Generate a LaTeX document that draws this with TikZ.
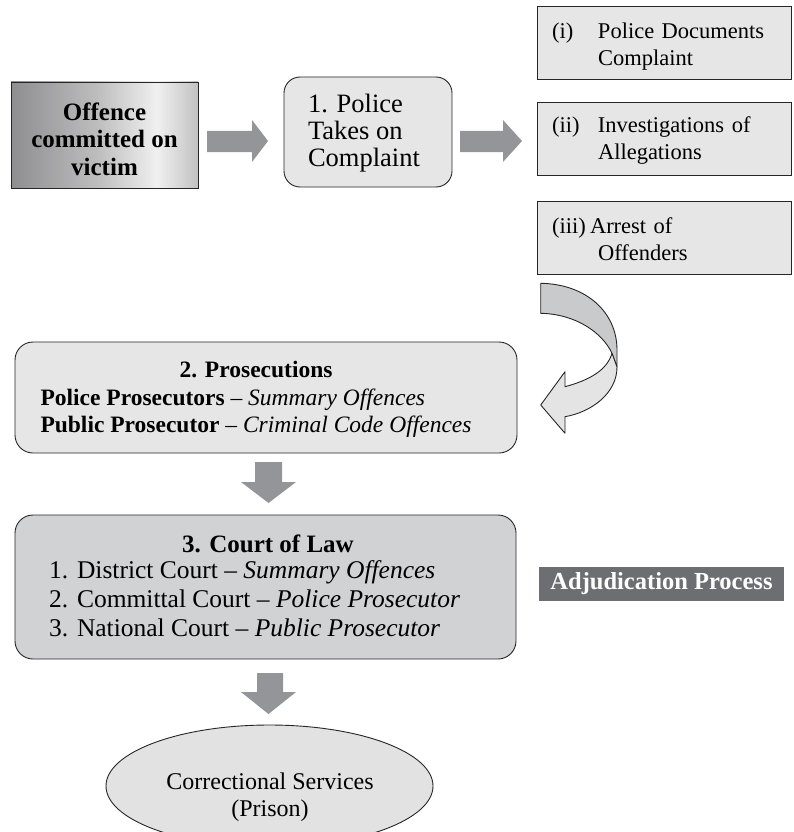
\documentclass[tikz,border=0pt]{standalone}
\usepackage{fontspec}
\setmainfont{Liberation Serif}
\usetikzlibrary{shapes.geometric}
\definecolor{arrowgray}{HTML}{939598}
\definecolor{boxlight}{HTML}{E6E6E7}
\definecolor{boxmid}{HTML}{D1D2D4}
\definecolor{adjgray}{HTML}{6D6E71}
\definecolor{curvedark}{HTML}{C9CACC}
\definecolor{curvelight}{HTML}{E4E4E5}
\definecolor{ellfill}{HTML}{E2E2E3}
\definecolor{shA}{HTML}{8E8E90}
\definecolor{shB}{HTML}{BDBDBE}
\definecolor{shC}{HTML}{F0F0F0}
\definecolor{shD}{HTML}{C2C2C3}
\pgfdeclarehorizontalshading{offsh}{100bp}{color(0bp)=(shA); color(25bp)=(shA); color(48bp)=(shB); color(64bp)=(shC); color(75bp)=(shD); color(100bp)=(shD)}
\tikzset{
  outline/.style={draw=black!85, line width=0.9pt, inner sep=0pt, outer sep=0pt},
  offbox/.style={outline, shading=offsh, minimum width=187pt, minimum height=106pt},
  policebox/.style={outline, fill=boxlight, rounded corners=16pt, minimum width=168pt, minimum height=110pt},
  stepbox/.style={outline, fill=boxlight, minimum width=254pt, minimum height=73pt},
  steptext/.style={inner sep=0pt, outer sep=0pt, anchor=west, text width=224pt, align=left,
    font=\fontsize{22.5}{27}\selectfont},
  bigbox/.style={outline, rounded corners=18pt},
  txt/.style={inner sep=0pt, outer sep=0pt},
  adjbox/.style={fill=adjgray, text=white, inner sep=0pt, minimum width=245pt, minimum height=34pt,
    font=\fontsize{24.5}{28}\selectfont\bfseries},
  blockarrow/.style={fill=arrowgray, draw=none},
  curvearrow/.style={draw=black!85, line width=0.9pt, line join=round}
}
\begin{document}
\begin{tikzpicture}[x=1pt,y=-1pt]
\useasboundingbox (0,0) rectangle (794,832);

% top row
\node[offbox] (offence) at (104.5,135) {};
\node[txt, align=center, font=\fontsize{25}{27.5}\selectfont\bfseries] (offtext) at (104.5,139) {Offence\\committed on\\victim};
\node[policebox] (police) at (368,132) {};
\node[txt, anchor=west, align=left, font=\fontsize{26.5}{27}\selectfont] (policetext) at (308,133) {1. Police\\Takes on\\Complaint};

\node[stepbox] (stepi) at (664,43) {};
\node[steptext] (stepitext) at (552,46.5) {\makebox[46pt][l]{(i)}Police Documents\\\hspace*{46pt}Complaint};
\node[stepbox] (stepii) at (664,138.5) {};
\node[steptext] (stepiitext) at (552,140.5) {\makebox[46pt][l]{(ii)}Investigations of\\\hspace*{46pt}Allegations};
\node[stepbox] (stepiii) at (664,237.5) {};
\node[steptext] (stepiiitext) at (552,239.5) {\makebox[38pt][l]{(iii)}Arrest of\\\hspace*{46pt}Offenders};

% horizontal block arrows
\fill[blockarrow] (207,131) -- (252,131) -- (252,120) -- (268,141) -- (252,162) -- (252,152) -- (207,152) -- cycle;
\fill[blockarrow] (460,131) -- (503,131) -- (503,120) -- (522,141) -- (503,162) -- (503,152) -- (460,152) -- cycle;

% curved arrow
\filldraw[curvearrow, fill=curvedark] (540.7,283.3) .. controls (586,284) and (617,312) .. (617,350)
  -- (617,367) -- (612,353.3) .. controls (602,332) and (575,314) .. (540.7,313.3) -- cycle;
\filldraw[curvearrow, fill=curvelight] (612,353.3) -- (617,367) .. controls (617,393) and (592,412) .. (565,416.7)
  -- (565,433.3) -- (540.7,405) -- (565,371.7) -- (565,386.7) .. controls (590,380) and (607,370) .. (612,353.3) -- cycle;

% prosecutions
\node[bigbox, fill=boxlight, minimum width=502pt, minimum height=111pt] (prosbox) at (266,397.5) {};
\node[txt, font=\fontsize{23.5}{27.5}\selectfont] (prostext) at (256,399.5) {%
  \begin{tabular}{@{}l@{}}
  \multicolumn{1}{@{}c@{}}{\bfseries 2. Prosecutions}\\
  \textbf{Police Prosecutors} -- \textit{Summary Offences}\\
  \textbf{Public Prosecutor} -- \textit{Criminal Code Offences}
  \end{tabular}};

\fill[blockarrow] (255,462) -- (282,462) -- (282,482) -- (296,482) -- (268.5,503) -- (241,482) -- (255,482) -- cycle;

% court
\node[bigbox, fill=boxmid, minimum width=501pt, minimum height=144pt] (courtbox) at (265.5,587) {};
\node[txt, font=\fontsize{25}{29}\selectfont\bfseries] (courttitle) at (268,544) {3. Court of Law};
\node[txt, anchor=west, font=\fontsize{25.5}{29}\selectfont] (courtlist) at (49,602) {%
  \begin{tabular}{@{}p{28pt}@{}l@{}}
  1. & District Court -- \textit{Summary Offences}\\
  2. & Committal Court -- \textit{Police Prosecutor}\\
  3. & National Court -- \textit{Public Prosecutor}
  \end{tabular}};

\node[adjbox] (adj) at (661.5,584) {Adjudication Process};

\fill[blockarrow] (257,673) -- (283,673) -- (283,692) -- (296,692) -- (268.5,714) -- (241,692) -- (257,692) -- cycle;

% correctional services
\node[ellipse, outline, fill=ellfill, minimum width=327pt, minimum height=122pt] (prison) at (269.5,786) {};
\node[txt, align=center, font=\fontsize{24}{27}\selectfont] (prisontext) at (270,797) {Correctional Services\\(Prison)};
\end{tikzpicture}
\end{document}
